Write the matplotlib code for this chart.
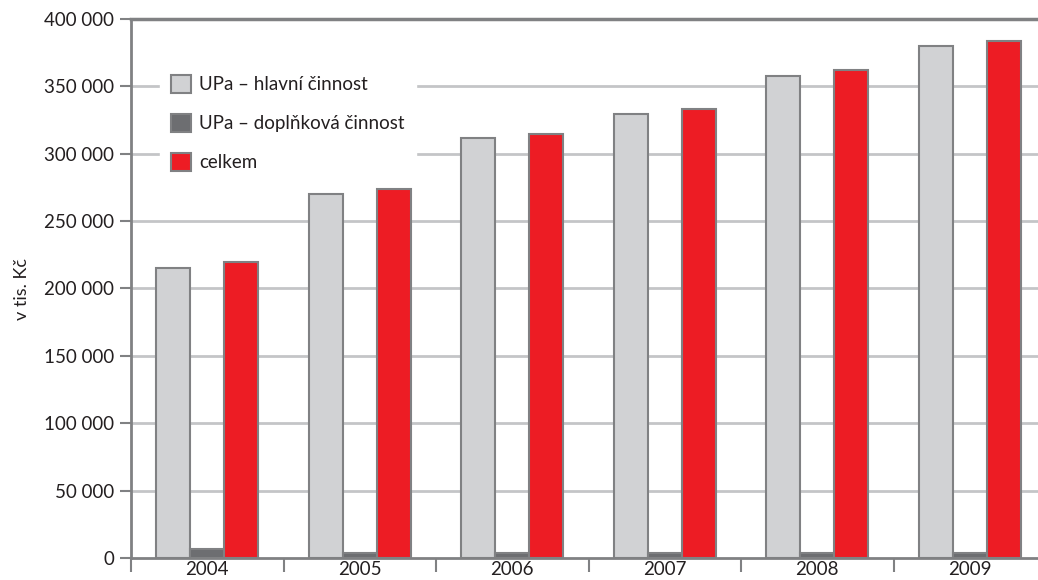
import numpy as np
import matplotlib.pyplot as plt
from matplotlib.ticker import FuncFormatter

years = ["2004", "2005", "2006", "2007", "2008", "2009"]
hlavni = [215500, 270000, 311500, 329500, 358000, 380000]
doplnkova = [6500, 3500, 3500, 3500, 3500, 4000]
celkem = [219500, 273500, 314500, 333500, 362000, 384000]

labels = ["UPa – hlavní činnost", "UPa – doplňková činnost", "celkem"]
colors = ["#D1D2D4", "#6D6E71", "#ED1C24"]
edge = "#808183"
txt = "#231F20"

plt.rcParams["font.family"] = ["Lato", "DejaVu Sans"]

fig = plt.figure(figsize=(10.38, 5.8), dpi=100)
ax = fig.add_axes([131 / 1038, 22 / 580, 915 / 1038, 539 / 580])

x = np.arange(len(years))
w = 0.222
for i, (vals, lab, col) in enumerate(zip([hlavni, doplnkova, celkem], labels, colors)):
    ax.bar(x + (i - 1) * w, vals, width=w, color=col, edgecolor=edge,
           linewidth=1.5, label=lab, zorder=3)

ax.set_xlim(-0.5, len(years) - 0.5)
ax.set_ylim(0, 400000)
ax.set_yticks(np.arange(0, 400001, 50000))
ax.yaxis.set_major_formatter(FuncFormatter(lambda v, p: f"{int(v):,}".replace(",", " ")))

# gridlines, top one darker
for v in range(50000, 400000, 50000):
    ax.axhline(v, color="#C4C5C7", lw=2, zorder=1)
ax.axhline(400000, color="#808183", lw=2.5, zorder=1, clip_on=False)

# x ticks at category boundaries, labels at centres
ax.set_xticks(np.arange(-0.5, len(years)), minor=False)
ax.set_xticklabels([])
ax.set_xticks(x, minor=True)
ax.set_xticklabels(years, minor=True)
ax.tick_params(axis="x", which="major", length=10, width=1.5, color=edge)
ax.tick_params(axis="x", which="minor", length=0, pad=2, labelsize=13.5, labelcolor=txt)
ax.tick_params(axis="y", length=8, width=1.5, color=edge, labelsize=13.5, labelcolor=txt, pad=4)

for s in ["top", "right"]:
    ax.spines[s].set_visible(False)
for s in ["left", "bottom"]:
    ax.spines[s].set_color(edge)
    ax.spines[s].set_linewidth(2)
    ax.spines[s].set_zorder(4)

ax.set_ylabel("v tis. Kč", fontsize=13, color=txt, labelpad=10)

leg = ax.legend(loc="upper left", bbox_to_anchor=(0.021, 0.935), frameon=True,
                fontsize=13.5, handlelength=1.1, handleheight=1.1,
                labelspacing=1.1, borderpad=0.6, handletextpad=0.4)
leg.get_frame().set_facecolor("white")
leg.get_frame().set_edgecolor("white")
leg.get_frame().set_alpha(1)
leg.set_zorder(2)
for t in leg.get_texts():
    t.set_color(txt)

fig.savefig("out.png", dpi=100)
